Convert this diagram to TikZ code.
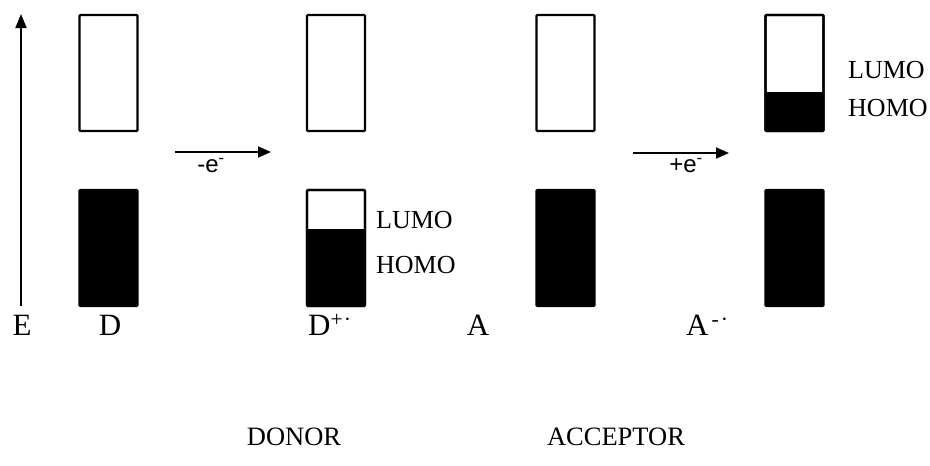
\documentclass[tikz,border=0pt]{standalone}
\usepackage{fontspec}
\setmainfont{Liberation Serif}
\newfontfamily\arialf{Liberation Sans}
\usetikzlibrary{arrows.meta}
\tikzset{
  lvl/.style={draw, line width=2.2pt, rounded corners=1pt, minimum width=58pt, minimum height=116pt, inner sep=0pt, outer sep=0pt},
  filled/.style={lvl, fill=black},
  lbl/.style={font=\fontsize{31}{34}\selectfont, inner sep=0pt},
  orb/.style={font=\fontsize{26}{30}\selectfont, inner sep=0pt, anchor=west},
  big/.style={font=\fontsize{26.5}{30}\selectfont, inner sep=0pt},
  elab/.style={font=\arialf\fontsize{24}{26}\selectfont, inner sep=0pt},
  tran/.style={line width=1.6pt, -{Triangle[length=13pt,width=11pt]}}
}
\begin{document}
\begin{tikzpicture}[x=1pt,y=-1pt]
\useasboundingbox (0,0) rectangle (930,466);
% energy axis
\coordinate (eb) at (21,306);
\coordinate (et) at (21,14);
\draw[line width=1.8pt, -{Triangle[length=14pt,width=11pt]}] (eb) -- (et);
% D
\node[lvl] (dt) at (108.5,73) {};
\node[filled] (db) at (108.5,248) {};
% D+
\node[lvl] (pt) at (336,73) {};
\node[lvl] (pb) at (336,248) {};
\fill[rounded corners=1pt] ([yshift=-39pt]pb.north west) rectangle (pb.south east);
\draw[line width=2.2pt, rounded corners=1pt] (pb.north west) rectangle (pb.south east);
% A
\node[lvl] (at) at (565.5,73) {};
\node[filled] (ab) at (565.5,248) {};
% A-
\node[lvl] (mt) at (794.5,73) {};
\fill[rounded corners=1pt] ([yshift=-77pt]mt.north west) rectangle (mt.south east);
\draw[line width=2.2pt, rounded corners=1pt] (mt.north west) rectangle (mt.south east);
\node[filled] (mb) at (794.5,248) {};
% orbital labels
\node[orb] (pl) at (376,220) {LUMO};
\node[orb] (ph) at (376,265) {HOMO};
\node[orb] (ml) at (848,70) {LUMO};
\node[orb] (mh) at (848,108) {HOMO};
% transitions
\coordinate (a1s) at (175,152);
\coordinate (a1e) at (271,152);
\draw[tran] (a1s) -- (a1e);
\node[elab] (a1l) at (211,166) {-e\textsuperscript{-}};
\coordinate (a2s) at (633,153);
\coordinate (a2e) at (729,153);
\draw[tran] (a2s) -- (a2e);
\node[elab] (a2l) at (686,166) {+e\textsuperscript{-}};
% species labels
\node[lbl] (le) at (22,325) {E};
\node[lbl] (ld) at (110,325) {D};
\node[lbl, anchor=west] (ldp) at (308,325) {D\textsuperscript{+\kern1pt·}};
\node[lbl] (la) at (478,325) {A};
\node[lbl, anchor=west] (lam) at (686,325) {A\kern3pt\textsuperscript{-\kern2pt·}};
% group labels
\node[big] (donor) at (294,437) {DONOR};
\node[big] (acc) at (616,437) {ACCEPTOR};
\end{tikzpicture}
\end{document}
